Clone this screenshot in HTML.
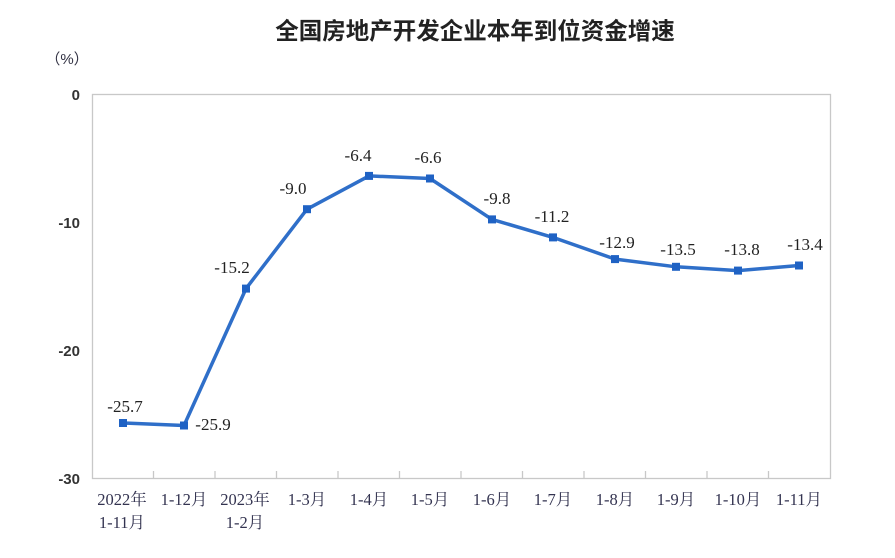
<!DOCTYPE html>
<html><head><meta charset="utf-8"><style>body{margin:0;background:#fff}</style></head>
<body>
<svg width="895" height="553" xmlns="http://www.w3.org/2000/svg">
<text x="475" y="39" text-anchor="middle" font-family="Liberation Sans, Noto Sans CJK SC, sans-serif" font-size="23.5" font-weight="bold" fill="#222">全国房地产开发企业本年到位资金增速</text>
<text x="67" y="64" text-anchor="middle" font-family="Liberation Sans, Noto Sans CJK SC, sans-serif" font-size="15" fill="#334">（%）</text>
<rect x="92.5" y="94.5" width="738" height="384" fill="none" stroke="#c8c8c8" stroke-width="1.3"/>
<g font-family="Liberation Sans, sans-serif" font-size="15" font-weight="bold" fill="#333" text-anchor="end">
<text x="80" y="100">0</text><text x="80" y="228">-10</text><text x="80" y="356">-20</text><text x="80" y="484">-30</text>
</g>
<g stroke="#c8c8c8" stroke-width="1.3">
<line x1="153.5" y1="471" x2="153.5" y2="478"/><line x1="215" y1="471" x2="215" y2="478"/><line x1="276.5" y1="471" x2="276.5" y2="478"/><line x1="338" y1="471" x2="338" y2="478"/><line x1="399.5" y1="471" x2="399.5" y2="478"/><line x1="461" y1="471" x2="461" y2="478"/><line x1="522.5" y1="471" x2="522.5" y2="478"/><line x1="584" y1="471" x2="584" y2="478"/><line x1="645.5" y1="471" x2="645.5" y2="478"/><line x1="707" y1="471" x2="707" y2="478"/><line x1="768.5" y1="471" x2="768.5" y2="478"/>
</g>
<g font-family="Liberation Serif, Noto Serif CJK SC, serif" font-size="16.5" fill="#333350" text-anchor="middle">
<text x="122" y="505">2022年</text><text x="122" y="528">1-11月</text>
<text x="184" y="505">1-12月</text>
<text x="245" y="505">2023年</text><text x="245" y="528">1-2月</text>
<text x="307" y="505">1-3月</text><text x="369" y="505">1-4月</text><text x="430" y="505">1-5月</text><text x="492" y="505">1-6月</text><text x="553" y="505">1-7月</text><text x="615" y="505">1-8月</text><text x="676" y="505">1-9月</text><text x="738" y="505">1-10月</text><text x="799" y="505">1-11月</text>
</g>
<polyline fill="none" stroke="#2f6fc9" stroke-width="3.5" stroke-linejoin="round" points="123,423 184,425.5 246,288.6 307,209.2 369,175.9 430,178.5 492,219.4 553,237.4 615,259.1 676,266.8 738,270.6 799,265.5"/>
<g fill="#1f62c4">
<rect x="119" y="419" width="8" height="8"/><rect x="180" y="421.5" width="8" height="8"/><rect x="242" y="284.6" width="8" height="8"/><rect x="303" y="205.2" width="8" height="8"/><rect x="365" y="171.9" width="8" height="8"/><rect x="426" y="174.5" width="8" height="8"/><rect x="488" y="215.4" width="8" height="8"/><rect x="549" y="233.4" width="8" height="8"/><rect x="611" y="255.1" width="8" height="8"/><rect x="672" y="262.8" width="8" height="8"/><rect x="734" y="266.6" width="8" height="8"/><rect x="795" y="261.5" width="8" height="8"/>
</g>
<g font-family="Liberation Serif, serif" font-size="17" fill="#222" text-anchor="middle">
<text x="125" y="412">-25.7</text><text x="213" y="430">-25.9</text><text x="232" y="273">-15.2</text><text x="293" y="194">-9.0</text><text x="358" y="161">-6.4</text><text x="428" y="163">-6.6</text><text x="497" y="204">-9.8</text><text x="552" y="222">-11.2</text><text x="617" y="248">-12.9</text><text x="678" y="255">-13.5</text><text x="742" y="255">-13.8</text><text x="805" y="250">-13.4</text>
</g>
</svg>
</body></html>
